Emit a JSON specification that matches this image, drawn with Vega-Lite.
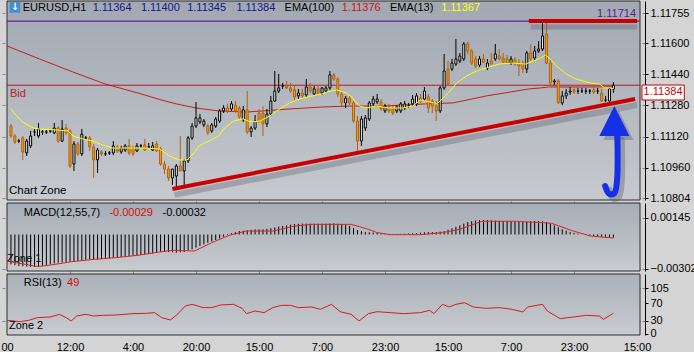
{
"$schema":"https://vega.github.io/schema/vega-lite/v6.json",
"padding":0,
"background":"#d4d4d4",
"width":643,
"height":334,
"config":{
 "font":"Liberation Sans",
 "view":{"stroke":null},
 "axis":{"labelFont":"Liberation Sans","labelFontSize":11,"labelColor":"#000000","gridColor":"#7c8898","gridDash":[3,2],"gridWidth":1,"gridOpacity":1,"tickColor":"#000000","domainColor":"#000000","tickSize":3,"labelPadding":2,"labelOverlap":false,"zindex":1},
 "text":{"font":"Liberation Sans","fontSize":11,"align":"left","baseline":"middle"}
},
"datasets":{
"candles":[
{"i":0,"o":1.11174,"h":1.11185,"l":1.11113,"c":1.11123,"m":-0.00264},
{"i":1,"o":1.11123,"h":1.11133,"l":1.11082,"c":1.11092,"m":-0.00271},
{"i":2,"o":1.11097,"h":1.11108,"l":1.11087,"c":1.11097,"m":-0.00278},
{"i":3,"o":1.11113,"h":1.11123,"l":1.11000,"c":1.11041,"m":-0.00281},
{"i":4,"o":1.11036,"h":1.11108,"l":1.11020,"c":1.11097,"m":-0.00284},
{"i":5,"o":1.11072,"h":1.11149,"l":1.11061,"c":1.11123,"m":-0.00286},
{"i":6,"o":1.11144,"h":1.11159,"l":1.11123,"c":1.11144,"m":-0.00287},
{"i":7,"o":1.11123,"h":1.11190,"l":1.11113,"c":1.11159,"m":-0.00283},
{"i":8,"o":1.11144,"h":1.11154,"l":1.11128,"c":1.11144,"m":-0.00278},
{"i":9,"o":1.11144,"h":1.11154,"l":1.11133,"c":1.11144,"m":-0.00271},
{"i":10,"o":1.11149,"h":1.11159,"l":1.11139,"c":1.11149,"m":-0.00264},
{"i":11,"o":1.11139,"h":1.11190,"l":1.11133,"c":1.11164,"m":-0.00256},
{"i":12,"o":1.11164,"h":1.11174,"l":1.11087,"c":1.11097,"m":-0.00249},
{"i":13,"o":1.11097,"h":1.11205,"l":1.11092,"c":1.11159,"m":-0.00246},
{"i":14,"o":1.11164,"h":1.11185,"l":1.11128,"c":1.11139,"m":-0.00243},
{"i":15,"o":1.11149,"h":1.11159,"l":1.10959,"c":1.10969,"m":-0.00241},
{"i":16,"o":1.10979,"h":1.11097,"l":1.10943,"c":1.11082,"m":-0.00240},
{"i":17,"o":1.11082,"h":1.11092,"l":1.11020,"c":1.11031,"m":-0.00234},
{"i":18,"o":1.11031,"h":1.11159,"l":1.11020,"c":1.11133,"m":-0.00228},
{"i":19,"o":1.11113,"h":1.11123,"l":1.11103,"c":1.11113,"m":-0.00224},
{"i":20,"o":1.11113,"h":1.11123,"l":1.11046,"c":1.11067,"m":-0.00220},
{"i":21,"o":1.11067,"h":1.11082,"l":1.10907,"c":1.11000,"m":-0.00220},
{"i":22,"o":1.11000,"h":1.11061,"l":1.10933,"c":1.11051,"m":-0.00220},
{"i":23,"o":1.11041,"h":1.11051,"l":1.11020,"c":1.11031,"m":-0.00217},
{"i":24,"o":1.11031,"h":1.11046,"l":1.11020,"c":1.11031,"m":-0.00214},
{"i":25,"o":1.11036,"h":1.11046,"l":1.11025,"c":1.11036,"m":-0.00210},
{"i":26,"o":1.11036,"h":1.11097,"l":1.11025,"c":1.11072,"m":-0.00205},
{"i":27,"o":1.11067,"h":1.11077,"l":1.11036,"c":1.11046,"m":-0.00202},
{"i":28,"o":1.11041,"h":1.11072,"l":1.11031,"c":1.11061,"m":-0.00199},
{"i":29,"o":1.11051,"h":1.11082,"l":1.11041,"c":1.11072,"m":-0.00195},
{"i":30,"o":1.11072,"h":1.11108,"l":1.11025,"c":1.11036,"m":-0.00190},
{"i":31,"o":1.11061,"h":1.11072,"l":1.11020,"c":1.11031,"m":-0.00187},
{"i":32,"o":1.11046,"h":1.11087,"l":1.11041,"c":1.11072,"m":-0.00184},
{"i":33,"o":1.11072,"h":1.11082,"l":1.11061,"c":1.11072,"m":-0.00180},
{"i":34,"o":1.11077,"h":1.11108,"l":1.11046,"c":1.11051,"m":-0.00176},
{"i":35,"o":1.11067,"h":1.11087,"l":1.11056,"c":1.11067,"m":-0.00172},
{"i":36,"o":1.11051,"h":1.11092,"l":1.11046,"c":1.11072,"m":-0.00167},
{"i":37,"o":1.11082,"h":1.11097,"l":1.11041,"c":1.11046,"m":-0.00161},
{"i":38,"o":1.11056,"h":1.11067,"l":1.10969,"c":1.10979,"m":-0.00155},
{"i":39,"o":1.10979,"h":1.10995,"l":1.10928,"c":1.10953,"m":-0.00155},
{"i":40,"o":1.10953,"h":1.10969,"l":1.10892,"c":1.10907,"m":-0.00155},
{"i":41,"o":1.10907,"h":1.10953,"l":1.10871,"c":1.10953,"m":-0.00158},
{"i":42,"o":1.10917,"h":1.10979,"l":1.10861,"c":1.10969,"m":-0.00161},
{"i":43,"o":1.10969,"h":1.11123,"l":1.10943,"c":1.10943,"m":-0.00158},
{"i":44,"o":1.10943,"h":1.11005,"l":1.10856,"c":1.10995,"m":-0.00155},
{"i":45,"o":1.10995,"h":1.11123,"l":1.10984,"c":1.11113,"m":-0.00143},
{"i":46,"o":1.11113,"h":1.11190,"l":1.11103,"c":1.11174,"m":-0.00131},
{"i":47,"o":1.11174,"h":1.11298,"l":1.11164,"c":1.11216,"m":-0.00117},
{"i":48,"o":1.11195,"h":1.11236,"l":1.11185,"c":1.11216,"m":-0.00102},
{"i":49,"o":1.11180,"h":1.11210,"l":1.11169,"c":1.11200,"m":-0.00088},
{"i":50,"o":1.11174,"h":1.11185,"l":1.11128,"c":1.11139,"m":-0.00073},
{"i":51,"o":1.11149,"h":1.11190,"l":1.11139,"c":1.11180,"m":-0.00061},
{"i":52,"o":1.11174,"h":1.11221,"l":1.11164,"c":1.11210,"m":-0.00049},
{"i":53,"o":1.11200,"h":1.11262,"l":1.11190,"c":1.11252,"m":-0.00035},
{"i":54,"o":1.11252,"h":1.11282,"l":1.11241,"c":1.11267,"m":-0.00020},
{"i":55,"o":1.11267,"h":1.11288,"l":1.11241,"c":1.11252,"m":-0.00005},
{"i":56,"o":1.11262,"h":1.11303,"l":1.11252,"c":1.11288,"m":0.00010},
{"i":57,"o":1.11282,"h":1.11303,"l":1.11241,"c":1.11252,"m":0.00020},
{"i":58,"o":1.11267,"h":1.11277,"l":1.11210,"c":1.11221,"m":0.00030},
{"i":59,"o":1.11205,"h":1.11277,"l":1.11195,"c":1.11257,"m":0.00033},
{"i":60,"o":1.11257,"h":1.11354,"l":1.11133,"c":1.11144,"m":0.00036},
{"i":61,"o":1.11144,"h":1.11174,"l":1.11118,"c":1.11164,"m":0.00040},
{"i":62,"o":1.11164,"h":1.11231,"l":1.11154,"c":1.11200,"m":0.00045},
{"i":63,"o":1.11241,"h":1.11262,"l":1.11190,"c":1.11200,"m":0.00045},
{"i":64,"o":1.11241,"h":1.11277,"l":1.11123,"c":1.11185,"m":0.00045},
{"i":65,"o":1.11185,"h":1.11262,"l":1.11169,"c":1.11236,"m":0.00050},
{"i":66,"o":1.11236,"h":1.11329,"l":1.11226,"c":1.11303,"m":0.00054},
{"i":67,"o":1.11303,"h":1.11457,"l":1.11298,"c":1.11354,"m":0.00062},
{"i":68,"o":1.11354,"h":1.11442,"l":1.11344,"c":1.11370,"m":0.00069},
{"i":69,"o":1.11380,"h":1.11396,"l":1.11365,"c":1.11380,"m":0.00075},
{"i":70,"o":1.11380,"h":1.11406,"l":1.11365,"c":1.11370,"m":0.00080},
{"i":71,"o":1.11370,"h":1.11396,"l":1.11344,"c":1.11354,"m":0.00086},
{"i":72,"o":1.11360,"h":1.11380,"l":1.11303,"c":1.11324,"m":0.00092},
{"i":73,"o":1.11329,"h":1.11365,"l":1.11313,"c":1.11344,"m":0.00094},
{"i":74,"o":1.11344,"h":1.11365,"l":1.11318,"c":1.11329,"m":0.00095},
{"i":75,"o":1.11334,"h":1.11416,"l":1.11324,"c":1.11375,"m":0.00095},
{"i":76,"o":1.11375,"h":1.11396,"l":1.11344,"c":1.11354,"m":0.00095},
{"i":77,"o":1.11339,"h":1.11380,"l":1.11329,"c":1.11365,"m":0.00095},
{"i":78,"o":1.11365,"h":1.11380,"l":1.11334,"c":1.11344,"m":0.00095},
{"i":79,"o":1.11344,"h":1.11375,"l":1.11334,"c":1.11370,"m":0.00095},
{"i":80,"o":1.11354,"h":1.11380,"l":1.11344,"c":1.11370,"m":0.00095},
{"i":81,"o":1.11370,"h":1.11457,"l":1.11360,"c":1.11437,"m":0.00097},
{"i":82,"o":1.11437,"h":1.11447,"l":1.11406,"c":1.11416,"m":0.00098},
{"i":83,"o":1.11416,"h":1.11426,"l":1.11324,"c":1.11339,"m":0.00094},
{"i":84,"o":1.11339,"h":1.11354,"l":1.11277,"c":1.11293,"m":0.00089},
{"i":85,"o":1.11293,"h":1.11329,"l":1.11267,"c":1.11318,"m":0.00082},
{"i":86,"o":1.11318,"h":1.11329,"l":1.11282,"c":1.11293,"m":0.00074},
{"i":87,"o":1.11293,"h":1.11303,"l":1.11190,"c":1.11200,"m":0.00057},
{"i":88,"o":1.11200,"h":1.11226,"l":1.11046,"c":1.11097,"m":0.00039},
{"i":89,"o":1.11097,"h":1.11226,"l":1.11072,"c":1.11210,"m":0.00030},
{"i":90,"o":1.11164,"h":1.11231,"l":1.11149,"c":1.11216,"m":0.00021},
{"i":91,"o":1.11210,"h":1.11303,"l":1.11200,"c":1.11293,"m":0.00019},
{"i":92,"o":1.11288,"h":1.11329,"l":1.11277,"c":1.11313,"m":0.00016},
{"i":93,"o":1.11298,"h":1.11339,"l":1.11288,"c":1.11313,"m":0.00013},
{"i":94,"o":1.11298,"h":1.11313,"l":1.11252,"c":1.11262,"m":0.00010},
{"i":95,"o":1.11252,"h":1.11288,"l":1.11241,"c":1.11277,"m":0.00007},
{"i":96,"o":1.11272,"h":1.11288,"l":1.11241,"c":1.11252,"m":0.00004},
{"i":97,"o":1.11262,"h":1.11277,"l":1.11231,"c":1.11241,"m":0.00004},
{"i":98,"o":1.11252,"h":1.11282,"l":1.11241,"c":1.11272,"m":0.00004},
{"i":99,"o":1.11252,"h":1.11298,"l":1.11241,"c":1.11288,"m":0.00005},
{"i":100,"o":1.11267,"h":1.11303,"l":1.11257,"c":1.11288,"m":0.00007},
{"i":101,"o":1.11277,"h":1.11293,"l":1.11267,"c":1.11277,"m":0.00008},
{"i":102,"o":1.11288,"h":1.11334,"l":1.11277,"c":1.11313,"m":0.00010},
{"i":103,"o":1.11288,"h":1.11344,"l":1.11277,"c":1.11329,"m":0.00013},
{"i":104,"o":1.11318,"h":1.11339,"l":1.11293,"c":1.11303,"m":0.00016},
{"i":105,"o":1.11313,"h":1.11375,"l":1.11303,"c":1.11354,"m":0.00019},
{"i":106,"o":1.11324,"h":1.11339,"l":1.11241,"c":1.11267,"m":0.00021},
{"i":107,"o":1.11303,"h":1.11313,"l":1.11241,"c":1.11277,"m":0.00021},
{"i":108,"o":1.11277,"h":1.11303,"l":1.11200,"c":1.11252,"m":0.00021},
{"i":109,"o":1.11252,"h":1.11380,"l":1.11241,"c":1.11370,"m":0.00025},
{"i":110,"o":1.11370,"h":1.11545,"l":1.11360,"c":1.11457,"m":0.00030},
{"i":111,"o":1.11467,"h":1.11509,"l":1.11380,"c":1.11390,"m":0.00042},
{"i":112,"o":1.11467,"h":1.11519,"l":1.11457,"c":1.11498,"m":0.00054},
{"i":113,"o":1.11493,"h":1.11622,"l":1.11483,"c":1.11519,"m":0.00067},
{"i":114,"o":1.11509,"h":1.11550,"l":1.11498,"c":1.11534,"m":0.00080},
{"i":115,"o":1.11519,"h":1.11606,"l":1.11509,"c":1.11596,"m":0.00095},
{"i":116,"o":1.11596,"h":1.11606,"l":1.11545,"c":1.11560,"m":0.00110},
{"i":117,"o":1.11560,"h":1.11570,"l":1.11488,"c":1.11498,"m":0.00117},
{"i":118,"o":1.11519,"h":1.11534,"l":1.11473,"c":1.11483,"m":0.00124},
{"i":119,"o":1.11488,"h":1.11534,"l":1.11478,"c":1.11519,"m":0.00126},
{"i":120,"o":1.11519,"h":1.11545,"l":1.11498,"c":1.11503,"m":0.00127},
{"i":121,"o":1.11473,"h":1.11519,"l":1.11462,"c":1.11498,"m":0.00126},
{"i":122,"o":1.11509,"h":1.11550,"l":1.11493,"c":1.11493,"m":0.00124},
{"i":123,"o":1.11519,"h":1.11596,"l":1.11509,"c":1.11545,"m":0.00122},
{"i":124,"o":1.11534,"h":1.11570,"l":1.11514,"c":1.11519,"m":0.00119},
{"i":125,"o":1.11524,"h":1.11550,"l":1.11498,"c":1.11503,"m":0.00118},
{"i":126,"o":1.11519,"h":1.11539,"l":1.11493,"c":1.11498,"m":0.00116},
{"i":127,"o":1.11498,"h":1.11534,"l":1.11488,"c":1.11519,"m":0.00115},
{"i":128,"o":1.11514,"h":1.11529,"l":1.11483,"c":1.11493,"m":0.00113},
{"i":129,"o":1.11498,"h":1.11519,"l":1.11431,"c":1.11483,"m":0.00112},
{"i":130,"o":1.11498,"h":1.11509,"l":1.11447,"c":1.11467,"m":0.00110},
{"i":131,"o":1.11467,"h":1.11560,"l":1.11447,"c":1.11550,"m":0.00113},
{"i":132,"o":1.11550,"h":1.11596,"l":1.11509,"c":1.11519,"m":0.00116},
{"i":133,"o":1.11524,"h":1.11586,"l":1.11514,"c":1.11560,"m":0.00118},
{"i":134,"o":1.11560,"h":1.11611,"l":1.11550,"c":1.11570,"m":0.00119},
{"i":135,"o":1.11570,"h":1.11704,"l":1.11560,"c":1.11637,"m":0.00115},
{"i":136,"o":1.11647,"h":1.11704,"l":1.11493,"c":1.11498,"m":0.00110},
{"i":137,"o":1.11498,"h":1.11519,"l":1.11385,"c":1.11396,"m":0.00095},
{"i":138,"o":1.11401,"h":1.11416,"l":1.11385,"c":1.11406,"m":0.00080},
{"i":139,"o":1.11406,"h":1.11416,"l":1.11288,"c":1.11293,"m":0.00063},
{"i":140,"o":1.11293,"h":1.11354,"l":1.11282,"c":1.11329,"m":0.00045},
{"i":141,"o":1.11329,"h":1.11365,"l":1.11313,"c":1.11344,"m":0.00033},
{"i":142,"o":1.11349,"h":1.11375,"l":1.11334,"c":1.11354,"m":0.00021},
{"i":143,"o":1.11360,"h":1.11375,"l":1.11339,"c":1.11349,"m":0.00014},
{"i":144,"o":1.11354,"h":1.11370,"l":1.11339,"c":1.11354,"m":0.00007},
{"i":145,"o":1.11354,"h":1.11370,"l":1.11344,"c":1.11354,"m":0.00001},
{"i":146,"o":1.11354,"h":1.11370,"l":1.11339,"c":1.11354,"m":-0.00005},
{"i":147,"o":1.11354,"h":1.11365,"l":1.11339,"c":1.11354,"m":-0.00010},
{"i":148,"o":1.11360,"h":1.11380,"l":1.11339,"c":1.11349,"m":-0.00014},
{"i":149,"o":1.11354,"h":1.11370,"l":1.11339,"c":1.11354,"m":-0.00017},
{"i":150,"o":1.11344,"h":1.11365,"l":1.11298,"c":1.11303,"m":-0.00020},
{"i":151,"o":1.11308,"h":1.11329,"l":1.11298,"c":1.11308,"m":-0.00023},
{"i":152,"o":1.11303,"h":1.11370,"l":1.11293,"c":1.11365,"m":-0.00026},
{"i":153,"o":1.11364,"h":1.11400,"l":1.11345,"c":1.11384,"m":-0.00029}
],
"ema13":[
{"i":0,"v":1.11262},{"i":1.5,"v":1.11226},{"i":3.25,"v":1.1119},{"i":5.75,"v":1.11164},{"i":7.25,"v":1.11159},{"i":11.5,"v":1.11154},{"i":14.5,"v":1.11149},{"i":15.75,"v":1.11123},{"i":18.25,"v":1.11108},{"i":20.75,"v":1.11097},{"i":23.25,"v":1.11077},{"i":25.75,"v":1.11061},{"i":29.5,"v":1.11061},{"i":33.5,"v":1.11061},{"i":37.75,"v":1.11056},{"i":40.25,"v":1.1102},{"i":42.75,"v":1.11},{"i":44.75,"v":1.11},{"i":46.5,"v":1.11036},{"i":47.75,"v":1.11072},{"i":50.25,"v":1.11097},{"i":52.75,"v":1.11123},{"i":54,"v":1.11159},{"i":56.5,"v":1.112},{"i":59,"v":1.11211},{"i":60.75,"v":1.11195},{"i":63.25,"v":1.112},{"i":65.75,"v":1.11226},{"i":68.25,"v":1.11262},{"i":70.75,"v":1.11293},{"i":73.25,"v":1.11313},{"i":76.5,"v":1.11329},{"i":79,"v":1.11339},{"i":80.25,"v":1.11349},{"i":82.75,"v":1.1136},{"i":85.25,"v":1.11344},{"i":87,"v":1.11313},{"i":88.5,"v":1.11277},{"i":90.25,"v":1.11267},{"i":92.75,"v":1.11277},{"i":96,"v":1.11267},{"i":99.5,"v":1.11267},{"i":102,"v":1.11277},{"i":104,"v":1.11308},{"i":106.5,"v":1.11298},{"i":108.25,"v":1.11288},{"i":109.75,"v":1.11318},{"i":111.5,"v":1.11354},{"i":113.25,"v":1.11396},{"i":115.75,"v":1.11432},{"i":118.25,"v":1.11457},{"i":120.75,"v":1.11473},{"i":124,"v":1.11493},{"i":127.25,"v":1.11498},{"i":130.75,"v":1.11493},{"i":132.75,"v":1.11509},{"i":134.5,"v":1.11524},{"i":135.75,"v":1.11539},{"i":137,"v":1.11519},{"i":138.5,"v":1.11483},{"i":141,"v":1.11442},{"i":143.5,"v":1.11416},{"i":147,"v":1.11396},{"i":149.5,"v":1.1139},{"i":150.75,"v":1.1137},{"i":152,"v":1.1137},{"i":153,"v":1.11367}
],
"ema100":[
{"i":-1,"v":1.11586},{"i":7.25,"v":1.11519},{"i":15.75,"v":1.11452},{"i":24,"v":1.1139},{"i":32.25,"v":1.11344},{"i":38.25,"v":1.11308},{"i":42,"v":1.11288},{"i":47,"v":1.11267},{"i":52.75,"v":1.11252},{"i":59.75,"v":1.11246},{"i":64,"v":1.11252},{"i":70.75,"v":1.11262},{"i":79,"v":1.11272},{"i":86,"v":1.11277},{"i":94.5,"v":1.11277},{"i":105.25,"v":1.11288},{"i":112.25,"v":1.11293},{"i":120.75,"v":1.11329},{"i":131.5,"v":1.11365},{"i":134.5,"v":1.1137},{"i":136.5,"v":1.11375},{"i":147,"v":1.11375},{"i":153,"v":1.11376}
],
"sig":[
{"i":-1,"v":-0.00234},{"i":6.75,"v":-0.00284},{"i":10,"v":-0.0027},{"i":15.5,"v":-0.0024},{"i":21,"v":-0.0022},{"i":26.6,"v":-0.00205},{"i":32.2,"v":-0.00184},{"i":37.7,"v":-0.00155},{"i":41,"v":-0.0014},{"i":46.6,"v":-0.00146},{"i":51,"v":-0.00073},{"i":55.4,"v":-0.00008},{"i":59.8,"v":0.0003},{"i":66.5,"v":0.0003},{"i":72,"v":0.00074},{"i":76.5,"v":0.00089},{"i":86.4,"v":0.00089},{"i":90.8,"v":0.00045},{"i":93,"v":0.00016},{"i":96.3,"v":-0.00002},{"i":104,"v":-0.00002},{"i":109.6,"v":0.00016},{"i":114,"v":0.00045},{"i":119.6,"v":0.00116},{"i":128.4,"v":0.00116},{"i":137.3,"v":0.00098},{"i":142.8,"v":0.0003},{"i":147.2,"v":-0.00014},{"i":153,"v":-0.00032}
],
"rsi":[
{"i":-1,"v":30.7},{"i":2.3,"v":27.7},{"i":4.5,"v":30.7},{"i":6.7,"v":36.9},{"i":10,"v":38.4},{"i":12.3,"v":44.5},{"i":14,"v":36.9},{"i":15.3,"v":29.2},{"i":16.7,"v":40.7},{"i":19,"v":44.5},{"i":21,"v":40.7},{"i":23.3,"v":42.2},{"i":26.7,"v":43},{"i":31,"v":46.1},{"i":34.4,"v":46.8},{"i":36.5,"v":48.4},{"i":38.3,"v":36.9},{"i":40.5,"v":31.5},{"i":42.1,"v":43},{"i":44.3,"v":63.7},{"i":46,"v":67.5},{"i":48.8,"v":59.9},{"i":51,"v":59.9},{"i":53.2,"v":66},{"i":56.5,"v":67.5},{"i":58.7,"v":58.3},{"i":59.8,"v":46.1},{"i":62,"v":52.2},{"i":64.3,"v":48.4},{"i":66.5,"v":59.9},{"i":68.7,"v":65.2},{"i":71,"v":65.2},{"i":73,"v":59.9},{"i":76.4,"v":61.4},{"i":78.6,"v":56},{"i":81.4,"v":67.5},{"i":83.6,"v":50.6},{"i":86.4,"v":44.5},{"i":88.4,"v":29.2},{"i":90.8,"v":46.1},{"i":93,"v":50.6},{"i":96.3,"v":48.4},{"i":99.7,"v":46.1},{"i":104,"v":48.4},{"i":106.3,"v":53.7},{"i":107.4,"v":46.1},{"i":109.6,"v":67.5},{"i":111.3,"v":61.4},{"i":113,"v":67.5},{"i":115.2,"v":71.3},{"i":117.4,"v":61.4},{"i":120.7,"v":58.3},{"i":124,"v":59.9},{"i":127.3,"v":56},{"i":130,"v":49.9},{"i":131.2,"v":61.4},{"i":135,"v":67.5},{"i":136.2,"v":52.2},{"i":139.5,"v":34.6},{"i":142.8,"v":38.4},{"i":146.1,"v":42.2},{"i":149.4,"v":40.7},{"i":150.5,"v":33},{"i":152.8,"v":46.1},{"i":153,"v":47}
]
},
"resolve":{"scale":{"y":"independent"},"axis":{"y":"independent"}},
"layer":[
{
 "layer":[
  {"data":{"values":[{}]},"mark":{"type":"rect","stroke":"#2e2e2e","strokeWidth":1,"fill":{"gradient":"linear","x1":0,"y1":0,"x2":0,"y2":1,"stops":[{"offset":0,"color":"#a1a8b2"},{"offset":1,"color":"#c6c9ce"}]}},
   "encoding":{
    "x":{"datum":-1,"type":"quantitative","scale":{"domain":[-1,159.75],"nice":false,"zero":false},
     "axis":{"values":[-1,7,15,23,31,39,47,55,63,71,79,87,95,103,111,119,127,135,143,151,159],"ticks":false,"domain":false,"grid":true,"title":null,"labelPadding":6,
      "gridOpacity":{"condition":{"test":"datum.value < 0 || datum.value > 155","value":0},"value":1},
      "labelExpr":"['00','','12:00','','4:00','','20:00','','15:00','','7:00','','23:00','','15:00','','7:00','','23:00','','15:00'][(datum.value+1)/8]"}},
    "x2":{"datum":159.75},
    "y":{"datum":1.11817,"type":"quantitative","scale":{"domain":[1.10794,1.11817],"range":[199,0],"nice":false,"zero":false},
     "axis":{"orient":"right","values":[1.10804,1.1096,1.1112,1.1128,1.1144,1.116,1.11755],"format":".5f","grid":true,"title":null}},
    "y2":{"datum":1.10794}}},
  {"data":{"name":"ema100"},"mark":{"type":"line","color":"#c41f1f","strokeWidth":1},
   "encoding":{"x":{"field":"i","type":"quantitative"},"y":{"field":"v","type":"quantitative"}}},
  {"data":{"values":[{}]},"mark":{"type":"rule","color":"#b41c1c","strokeWidth":1},"encoding":{"x":{"datum":-1},"x2":{"datum":159.75},"y":{"datum":1.11384}}},
  {"data":{"values":[{}]},"mark":{"type":"rule","color":"#6a1fa0","strokeWidth":1.2},"encoding":{"x":{"datum":-1},"x2":{"datum":159.75},"y":{"datum":1.11714}}},
  {"data":{"name":"candles"},"mark":{"type":"rule","strokeWidth":1},
   "encoding":{"x":{"field":"i","type":"quantitative"},"y":{"field":"l","type":"quantitative"},"y2":{"field":"h"},
    "color":{"condition":{"test":"datum.c < datum.o","value":"#b4600e"},"value":"#000000"}}},
  {"data":{"name":"candles"},"mark":{"type":"bar","size":2,"strokeWidth":1},
   "encoding":{"x":{"field":"i","type":"quantitative"},"y":{"field":"o","type":"quantitative"},"y2":{"field":"c"},
    "fill":{"condition":[{"test":"datum.c > datum.o","value":"#f2f4f4"},{"test":"datum.c < datum.o","value":"#e4a31a"}],"value":"#000000"},
    "stroke":{"condition":{"test":"datum.c < datum.o","value":"#b4600e"},"value":"#000000"}}},
  {"data":{"name":"ema13"},"mark":{"type":"line","color":"#ffff00","strokeWidth":1},
   "encoding":{"x":{"field":"i","type":"quantitative"},"y":{"field":"v","type":"quantitative"}}},
  {"data":{"values":[{"i":41,"p":1.10851},{"i":158.5,"p":1.11313}]},"mark":{"type":"line","color":"#4a5260","opacity":0.3,"strokeWidth":6,"yOffset":6,"xOffset":2},
   "encoding":{"x":{"field":"i","type":"quantitative"},"y":{"field":"p","type":"quantitative"}}},
  {"data":{"values":[{"i":41,"p":1.10851},{"i":158.5,"p":1.11313}]},"mark":{"type":"line","color":"#c80000","strokeWidth":4},
   "encoding":{"x":{"field":"i","type":"quantitative"},"y":{"field":"p","type":"quantitative"}}},
  {"data":{"values":[{}]},"mark":{"type":"rule","color":"#4a5260","opacity":0.3,"strokeWidth":5,"yOffset":6,"xOffset":2},
   "encoding":{"x":{"datum":131.5},"x2":{"datum":159},"y":{"datum":1.11714}}},
  {"data":{"values":[{}]},"mark":{"type":"rule","color":"#c80000","strokeWidth":4},
   "encoding":{"x":{"datum":131.5},"x2":{"datum":159},"y":{"datum":1.11714}}},
  {"data":{"values":[{"k":0,"i":154,"p":1.11123},{"k":1,"i":153.9,"p":1.10892},{"k":2,"i":153.25,"p":1.1083},{"k":3,"i":152,"p":1.10825},{"k":4,"i":150.9,"p":1.10866}]},
   "mark":{"type":"line","color":"#4a5260","opacity":0.35,"strokeWidth":7,"strokeCap":"round","interpolate":"catmull-rom","xOffset":4,"yOffset":4},
   "encoding":{"x":{"field":"i","type":"quantitative"},"y":{"field":"p","type":"quantitative"},"order":{"field":"k"}}},
  {"data":{"values":[{}]},"mark":{"type":"point","shape":"M -1 1 L 1 1 L 0 -1 Z","size":900,"filled":true,"color":"#4a5260","opacity":0.35,"xOffset":4,"yOffset":4},
   "encoding":{"x":{"datum":153.25},"y":{"datum":1.112}}},
  {"data":{"values":[{"k":0,"i":154,"p":1.11123},{"k":1,"i":153.9,"p":1.10892},{"k":2,"i":153.25,"p":1.1083},{"k":3,"i":152,"p":1.10825},{"k":4,"i":150.9,"p":1.10866}]},
   "mark":{"type":"line","color":"#1630e8","strokeWidth":6,"strokeCap":"round","interpolate":"catmull-rom"},
   "encoding":{"x":{"field":"i","type":"quantitative"},"y":{"field":"p","type":"quantitative"},"order":{"field":"k"}}},
  {"data":{"values":[{}]},"mark":{"type":"point","shape":"M -1 1 L 1 1 L 0 -1 Z","size":900,"filled":true,"color":"#1630e8","opacity":1},
   "encoding":{"x":{"datum":153.25},"y":{"datum":1.112}}},
  {"data":{"values":[{}]},"mark":{"type":"rect","fill":"#ffffff","stroke":"#c00000","strokeWidth":1},
   "encoding":{"x":{"datum":160.25},"x2":{"datum":171},"y":{"datum":1.11385},"y2":{"datum":1.11308}}},
  {"data":{"values":[{}]},"mark":{"type":"text","text":"1.11384","color":"#d00000","align":"center"},"encoding":{"x":{"datum":165.6},"y":{"datum":1.11347}}},
  {"data":{"values":[{}]},"mark":{"type":"text","text":"1.11714","color":"#5b1b96","align":"right"},"encoding":{"x":{"datum":158.75},"y":{"datum":1.1175}}},
  {"data":{"values":[{}]},"mark":{"type":"square","size":110,"filled":true,"color":"#3b8fd9","opacity":1},"encoding":{"x":{"datum":1},"y":{"datum":1.11784}}},
  {"data":{"values":[{}]},"mark":{"type":"text","text":"↓","color":"#ffffff","align":"center","fontWeight":"bold","fontSize":10,"font":"DejaVu Sans"},"encoding":{"x":{"datum":1},"y":{"datum":1.11784}}},
  {"data":{"values":[{}]},"mark":{"type":"text","text":"EURUSD,H1","color":"#000000"},"encoding":{"x":{"datum":3},"y":{"datum":1.11781}}},
  {"data":{"values":[{}]},"mark":{"type":"text","text":"1.11364","color":"#14148c"},"encoding":{"x":{"datum":20.75},"y":{"datum":1.11781}}},
  {"data":{"values":[{}]},"mark":{"type":"text","text":"1.11400","color":"#14148c"},"encoding":{"x":{"datum":33},"y":{"datum":1.11781}}},
  {"data":{"values":[{}]},"mark":{"type":"text","text":"1.11345","color":"#14148c"},"encoding":{"x":{"datum":44.75},"y":{"datum":1.11781}}},
  {"data":{"values":[{}]},"mark":{"type":"text","text":"1.11384","color":"#14148c"},"encoding":{"x":{"datum":57.25},"y":{"datum":1.11781}}},
  {"data":{"values":[{}]},"mark":{"type":"text","text":"EMA(100)","color":"#000000"},"encoding":{"x":{"datum":69.5},"y":{"datum":1.11781}}},
  {"data":{"values":[{}]},"mark":{"type":"text","text":"1.11376","color":"#d01010"},"encoding":{"x":{"datum":84},"y":{"datum":1.11781}}},
  {"data":{"values":[{}]},"mark":{"type":"text","text":"EMA(13)","color":"#000000"},"encoding":{"x":{"datum":96.25},"y":{"datum":1.11781}}},
  {"data":{"values":[{}]},"mark":{"type":"text","text":"1.11367","color":"#ffff00"},"encoding":{"x":{"datum":109.25},"y":{"datum":1.11781}}},
  {"data":{"values":[{}]},"mark":{"type":"text","text":"Bid","color":"#b22222"},"encoding":{"x":{"datum":-0.25},"y":{"datum":1.11339}}},
  {"data":{"values":[{}]},"mark":{"type":"text","text":"Chart Zone","color":"#000000","fontSize":11.5},"encoding":{"x":{"datum":-0.5},"y":{"datum":1.10838}}}
 ]
},
{
 "layer":[
  {"data":{"values":[{}]},"mark":{"type":"rect","stroke":"#2e2e2e","strokeWidth":1,"fill":{"gradient":"linear","x1":0,"y1":0,"x2":0,"y2":1,"stops":[{"offset":0,"color":"#a6adb6"},{"offset":1,"color":"#c8cbcf"}]}},
   "encoding":{"x":{"datum":-1},"x2":{"datum":159.75},
    "y":{"datum":0.002773,"type":"quantitative","scale":{"domain":[-0.003225,0.002773],"range":[270,202],"nice":false,"zero":false},
     "axis":{"orient":"right","values":[-0.00302,0.00145],"format":".5f","grid":true,"title":null}},
    "y2":{"datum":-0.003225}}},
  {"data":{"values":[{}]},"mark":{"type":"text","text":"Zone 1","color":"#000000"},"encoding":{"x":{"datum":-1},"y":{"datum":-0.00217}}},
  {"data":{"name":"candles"},"mark":{"type":"rule","color":"#000000","strokeWidth":1},
   "encoding":{"x":{"field":"i","type":"quantitative"},"y":{"field":"m","type":"quantitative"},"y2":{"datum":0}}},
  {"data":{"name":"sig"},"mark":{"type":"line","color":"#e02020","strokeWidth":1},
   "encoding":{"x":{"field":"i","type":"quantitative"},"y":{"field":"v","type":"quantitative"}}},
  {"data":{"values":[{}]},"mark":{"type":"text","text":"MACD(12,55,7)","color":"#000000"},"encoding":{"x":{"datum":3.25},"y":{"datum":0.00189}}},
  {"data":{"values":[{}]},"mark":{"type":"text","text":"-0.00029","color":"#d01010"},"encoding":{"x":{"datum":25},"y":{"datum":0.00189}}},
  {"data":{"values":[{}]},"mark":{"type":"text","text":"-0.00032","color":"#000000"},"encoding":{"x":{"datum":38.5},"y":{"datum":0.00189}}}
 ]
},
{
 "layer":[
  {"data":{"values":[{}]},"mark":{"type":"rect","stroke":"#2e2e2e","strokeWidth":1,"fill":{"gradient":"linear","x1":0,"y1":0,"x2":0,"y2":1,"stops":[{"offset":0,"color":"#aab1b9"},{"offset":1,"color":"#c9ccd0"}]}},
   "encoding":{"x":{"datum":-1},"x2":{"datum":159.75},
    "y":{"datum":137.2,"type":"quantitative","scale":{"domain":[-3,137.2],"range":[334,273],"nice":false,"zero":false},
     "axis":{"orient":"right","values":[0,30,70,105],"format":"d","grid":true,"title":null,
      "gridOpacity":{"condition":{"test":"datum.value == 0 || datum.value == 70","value":0},"value":1}}},
    "y2":{"datum":-3}}},
  {"data":{"name":"rsi"},"mark":{"type":"line","color":"#d41c1c","strokeWidth":1},
   "encoding":{"x":{"field":"i","type":"quantitative"},"y":{"field":"v","type":"quantitative"}}},
  {"data":{"values":[{}]},"mark":{"type":"text","text":"Zone 2","color":"#000000"},"encoding":{"x":{"datum":-0.5},"y":{"datum":17.7}}},
  {"data":{"values":[{}]},"mark":{"type":"text","text":"RSI(13)","color":"#000000"},"encoding":{"x":{"datum":3.25},"y":{"datum":116.6}}},
  {"data":{"values":[{}]},"mark":{"type":"text","text":"49","color":"#d01010"},"encoding":{"x":{"datum":14.25},"y":{"datum":116.6}}}
 ]
}
]
}
